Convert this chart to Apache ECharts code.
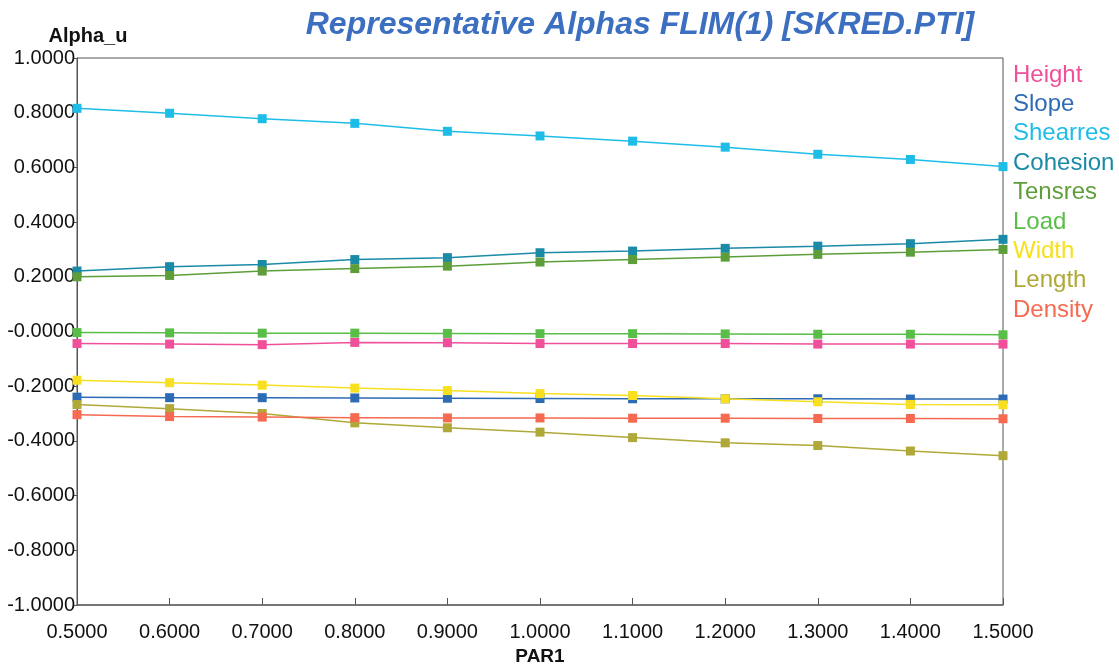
<!DOCTYPE html>
<html>
<head>
<meta charset="utf-8">
<script src="https://cdn.jsdelivr.net/npm/echarts@6/dist/echarts.min.js"></script>
<style>
  html, body { margin: 0; padding: 0; background: #fff; }
  #chart { width: 1119px; height: 665px; }
</style>
</head>
<body>
<div id="chart"></div>
<script>
// x values (PAR1)
const par1 = [0.5, 0.6, 0.7, 0.8, 0.9, 1.0, 1.1, 1.2, 1.3, 1.4, 1.5];

// series values
const height   = [-0.044, -0.046, -0.048, -0.040, -0.041, -0.044, -0.044, -0.044, -0.046, -0.046, -0.046];
const slope    = [-0.240, -0.242, -0.242, -0.243, -0.244, -0.245, -0.246, -0.246, -0.246, -0.247, -0.247];
const shearres = [0.816, 0.798, 0.778, 0.761, 0.732, 0.715, 0.696, 0.674, 0.648, 0.629, 0.603];
const cohesion = [0.221, 0.237, 0.245, 0.263, 0.270, 0.288, 0.294, 0.304, 0.312, 0.321, 0.337];
const tensres  = [0.200, 0.205, 0.221, 0.230, 0.239, 0.254, 0.263, 0.272, 0.282, 0.290, 0.300];
const load     = [-0.004, -0.005, -0.006, -0.006, -0.007, -0.008, -0.008, -0.009, -0.010, -0.010, -0.012];
const width    = [-0.178, -0.187, -0.196, -0.207, -0.216, -0.227, -0.234, -0.246, -0.257, -0.267, -0.268];
const length   = [-0.267, -0.282, -0.300, -0.334, -0.352, -0.368, -0.388, -0.407, -0.417, -0.437, -0.454];
const density  = [-0.304, -0.311, -0.313, -0.315, -0.316, -0.316, -0.317, -0.317, -0.318, -0.318, -0.319];

const seriesList = [
  { name: "Height",   data: height,   color: "#f0509a" },
  { name: "Slope",    data: slope,    color: "#2e6bb5" },
  { name: "Shearres", data: shearres, color: "#1ebde8" },
  { name: "Cohesion", data: cohesion, color: "#1a8aa6" },
  { name: "Tensres",  data: tensres,  color: "#5e9e3a" },
  { name: "Load",     data: load,     color: "#58be48" },
  { name: "Width",    data: width,    color: "#f8e020" },
  { name: "Length",   data: length,   color: "#b0a838" },
  { name: "Density",  data: density,  color: "#f56a50" },
];

// 4 decimals, zero shown as "-0.0000" like the original
const fmt = (v) => {
  if (Math.abs(v) < 1e-9) return "-0.0000";
  return v.toFixed(4);
};

let myChart = echarts.init(document.getElementById("chart"));
let option = {
  backgroundColor: "#fff",
  animation: false,
  textStyle: { fontFamily: "Liberation Sans, Arial, sans-serif" },
  title: {
    text: "Representative Alphas FLIM(1) [SKRED.PTI]",
    left: 635,
    textAlign: "center",
    top: 4,
    textStyle: {
      color: "#3c6fc0",
      fontSize: 32,
      fontWeight: "bold",
      fontStyle: "italic",
    },
  },
  legend: {
    orient: "vertical",
    left: 1007,
    top: 58,
    itemWidth: 0,
    itemHeight: 0,
    itemGap: 5.4,
    icon: "rect",
    selectedMode: false,
    data: seriesList.map((s) => ({
      name: s.name,
      textStyle: { color: s.color, fontSize: 24, lineHeight: 24 },
    })),
    textStyle: { fontSize: 24, padding: [0, 0, 0, -4] },
  },
  grid: {
    left: 77,
    right: 116,
    top: 58,
    bottom: 60,
    outerBoundsMode: "none",
    show: true,
    borderColor: "#555",
    borderWidth: 1,
  },
  xAxis: {
    type: "value",
    min: 0.5,
    max: 1.5,
    interval: 0.1,
    name: "PAR1",
    nameLocation: "middle",
    nameGap: 35,
    nameTextStyle: { color: "#111", fontSize: 19, fontWeight: "bold" },
    axisLine: { onZero: false, lineStyle: { color: "#666", width: 1.5 } },
    axisTick: { inside: true, length: 7, lineStyle: { color: "#555" } },
    axisLabel: {
      color: "#111",
      fontSize: 20,
      margin: 17,
      formatter: fmt,
    },
    splitLine: { show: false },
  },
  yAxis: {
    type: "value",
    min: -1,
    max: 1,
    interval: 0.2,
    name: "Alpha_u",
    nameGap: 12,
    nameTextStyle: {
      color: "#111",
      fontSize: 20,
      fontWeight: "bold",
      padding: [0, 0, 0, 22],
    },
    axisLine: { lineStyle: { color: "#555" } },
    axisTick: { length: 4, lineStyle: { color: "#555" } },
    axisLabel: {
      color: "#111",
      fontSize: 20,
      margin: 2,
      formatter: fmt,
    },
    splitLine: { show: false },
  },
  series: seriesList.map((s) => ({
    name: s.name,
    type: "line",
    data: par1.map((x, i) => [x, s.data[i]]),
    symbol: "rect",
    symbolSize: 9,
    color: s.color,
    lineStyle: { width: 1.5, color: s.color },
    itemStyle: { color: s.color },
  })),
};
myChart.setOption(option);
</script>
</body>
</html>
